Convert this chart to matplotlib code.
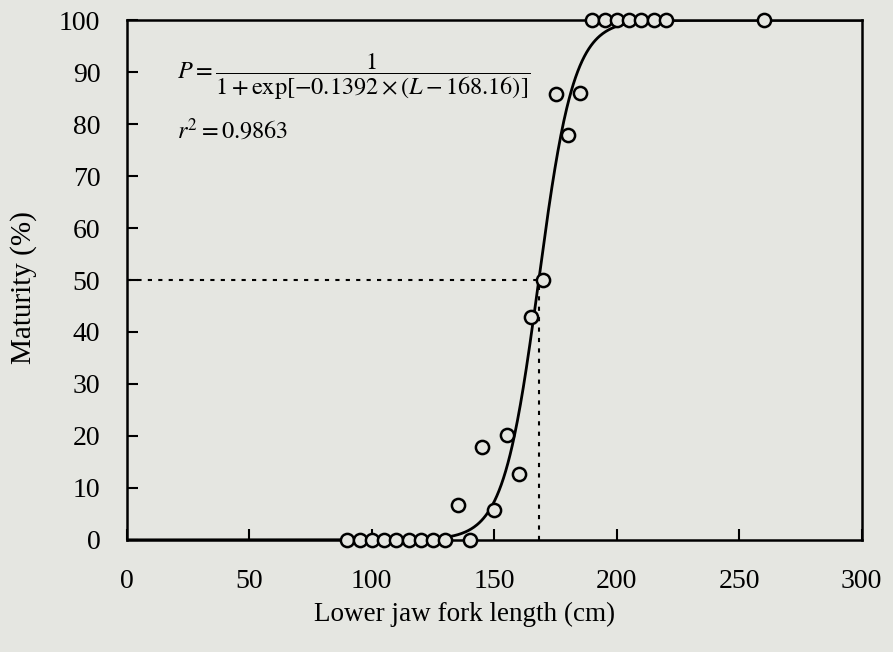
import numpy as np
import matplotlib.pyplot as plt

plt.rcParams['font.family'] = ['Liberation Serif', 'DejaVu Serif']
plt.rcParams['mathtext.fontset'] = 'stix'

# observed maturity by length class
length = [90, 95, 100, 105, 110, 115, 120, 125, 130, 135, 140, 145, 150, 155, 160,
          165, 170, 175, 180, 185, 190, 195, 200, 205, 210, 215, 220, 260]
maturity = [0, 0, 0, 0, 0, 0, 0, 0, 0, 6.7, 0, 17.9, 5.8, 20.2, 12.6,
            42.9, 50, 85.8, 77.9, 86, 100, 100, 100, 100, 100, 100, 100, 100]

# logistic fit
a = -0.1392
L50 = 168.16

bg = '#e5e6e1'
fig = plt.figure(figsize=(8.93, 6.52), dpi=100, facecolor=bg)
ax = fig.add_axes([0.142, 0.172, 0.823, 0.797])
ax.set_facecolor(bg)

L = np.linspace(0, 300, 1000)
P = 100 / (1 + np.exp(a * (L - L50)))
ax.plot(L, P, color='black', lw=2, zorder=2)

ax.plot([0, L50], [50, 50], 'k', ls=(0, (2, 3)), lw=1.5, zorder=1)
ax.plot([L50, L50], [0, 50], 'k', ls=(0, (2, 3)), lw=1.5, zorder=1)

ax.plot(length, maturity, 'o', ms=9.5, mfc=bg, mec='black', mew=1.8,
        zorder=3, clip_on=False)

ax.text(20.5, 89.2, r'$P=\dfrac{1}{1+\exp[-0.1392\times(L-168.16)]}$',
        fontsize=17.5, va='center', ha='left')
ax.text(20.5, 78.8, r'$r^2=0.9863$', fontsize=17.5, va='center', ha='left')

ax.set_xlim(0, 300)
ax.set_ylim(0, 100)
ax.set_xticks(range(0, 301, 50))
ax.set_yticks(range(0, 101, 10))
ax.tick_params(direction='in', length=8, width=1.5, labelsize=20)
ax.tick_params(axis='x', pad=21)
ax.tick_params(axis='y', pad=19)
for s in ax.spines.values():
    s.set_linewidth(1.8)

ax.set_xlabel('Lower jaw fork length (cm)', fontsize=19.5, labelpad=6)
ax.set_ylabel('Maturity (%)', fontsize=21, labelpad=16)
ax.xaxis.label.set_x(0.46)
ax.yaxis.label.set_y(0.485)

plt.savefig('out.png', dpi=100, facecolor=bg)
